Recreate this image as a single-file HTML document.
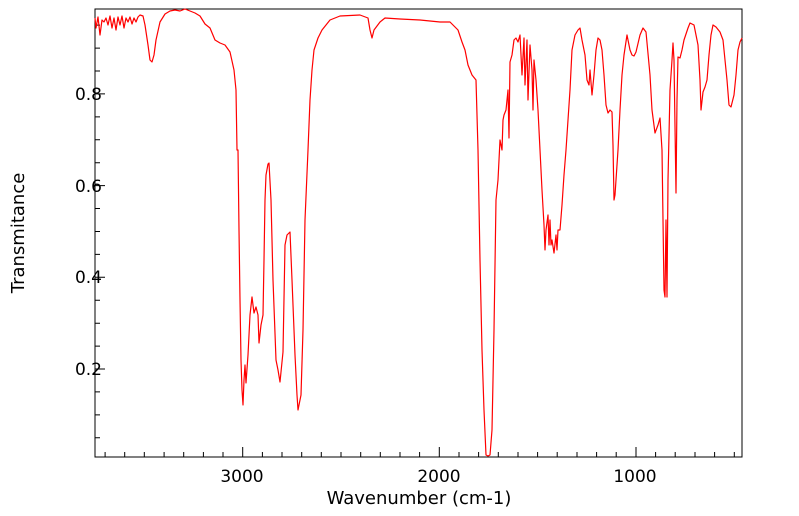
<!DOCTYPE html>
<html><head><style>
body{margin:0;background:#fff;}
svg{display:block;font-family:"DejaVu Sans","Liberation Sans",sans-serif;}
</style></head><body>
<svg width="799" height="516" viewBox="0 0 799 516" xmlns="http://www.w3.org/2000/svg">
<rect x="95" y="9" width="647" height="448" fill="#fff" stroke="#000" stroke-width="1"/>
<path stroke="#000" stroke-width="1" fill="none" d="
M105.1,457v-5 M124.7,457v-5 M144.3,457v-5 M164.1,457v-5 M183.7,457v-5 M203.4,457v-5 M223,457v-5 M242.7,457v-10 M262.4,457v-5 M282,457v-5 M301.7,457v-5 M321.3,457v-5 M341,457v-5 M360.7,457v-5 M380.3,457v-5 M400,457v-5 M419.6,457v-5 M439.3,457v-10 M459,457v-5 M478.6,457v-5 M498.3,457v-5 M518,457v-5 M537.6,457v-5 M557.2,457v-5 M577,457v-5 M596.6,457v-5 M616.2,457v-5 M636,457v-10 M655.6,457v-5 M675.2,457v-5 M695,457v-5 M714.6,457v-5 M734.3,457v-5
M95,437.8h5 M95,414.9h5 M95,391.9h5 M95,369h10 M95,346.1h5 M95,323.2h5 M95,300.2h5 M95,277.3h10 M95,254.4h5 M95,231.5h5 M95,208.5h5 M95,185.6h10 M95,162.7h5 M95,139.8h5 M95,116.9h5 M95,93.9h10 M95,71h5 M95,48.1h5 M95,25.1h5"/>
<g font-size="17" fill="#000">
<text x="102" y="100" text-anchor="end">0.8</text>
<text x="102" y="192" text-anchor="end">0.6</text>
<text x="102" y="283" text-anchor="end">0.4</text>
<text x="102" y="375" text-anchor="end">0.2</text>
<text x="242" y="482" text-anchor="middle">3000</text>
<text x="439" y="482" text-anchor="middle">2000</text>
<text x="635" y="482" text-anchor="middle">1000</text>
<text x="419" y="504" text-anchor="middle" font-size="18">Wavenumber (cm-1)</text>
<text transform="translate(24,233) rotate(-90)" text-anchor="middle" font-size="18">Transmitance</text>
</g>
<polyline fill="none" stroke="#ff0000" stroke-width="1.2" stroke-linejoin="round" points="
95,18 96,28 98,17 100,35 102,20 104,22 106,18 108,25 110,16 112,28 114,18 116,30 118,17 120,25 122,16 124,28 126,18 128,22 130,17 132,24 134,18 136,22 138,17 140,15 143,16 145,25 148,45 150,60 152,62 154,55 156,40 160,22 165,14 170,11 175,10 180,11 185,9 190,11 195,13 200,16 205,24 210,28 215,40 220,43 225,45 230,52 234,70 236,90 237,150 238,150 239,230 240,300 241,360 242,390 243,405 244,380 245,365 246,383 248,355 250,315 252,297 254,313 256,307 258,315 259,343 261,325 263,315 264,260 265,200 266,175 268,164 269,163 271,200 273,280 276,360 278,370 280,382 283,352 285,245 287,235 290,232 292,280 295,355 297,395 298,410 301,395 303,330 305,220 308,150 310,100 312,70 314,50 318,38 322,30 330,20 340,16 360,15 368,18 370,30 372,38 374,30 380,22 385,18 400,19 420,20 440,22 450,22 458,30 462,42 465,50 468,65 472,75 476,80 478,150 480,260 482,350 484,410 486,455 488,456 490,455 492,430 494,330 496,200 498,180 500,140 502,150 503,120 504,115 506,110 508,90 509,138 510,62 512,55 514,40 516,38 518,42 520,35 522,75 524,38 525,85 527,40 528,100 530,45 532,70 533,110 534,60 536,80 538,110 540,150 542,190 544,225 545,250 546,230 548,215 549,245 550,220 551,245 552,240 554,253 556,235 557,250 558,230 560,230 562,205 564,175 566,150 568,120 570,90 572,50 575,35 578,30 580,28 582,40 585,55 587,80 589,85 590,70 592,95 594,75 596,50 598,38 600,40 602,50 604,75 606,105 608,113 610,110 612,112 613,145 614,200 615,195 616,180 618,150 620,110 622,75 624,55 627,35 630,50 632,55 634,56 636,52 640,35 643,28 646,32 650,75 652,110 655,133 658,125 660,118 662,150 664,290 665,297 666,220 667,297 668,180 670,90 672,60 673,43 674,60 676,193 677,100 678,57 680,58 682,50 684,40 688,28 690,23 694,25 698,45 700,80 701,110 703,92 705,87 707,80 709,55 711,35 713,25 716,27 720,32 723,40 725,60 727,80 729,105 731,107 734,95 736,75 738,50 740,42 742,38"/>
</svg>
</body></html>
